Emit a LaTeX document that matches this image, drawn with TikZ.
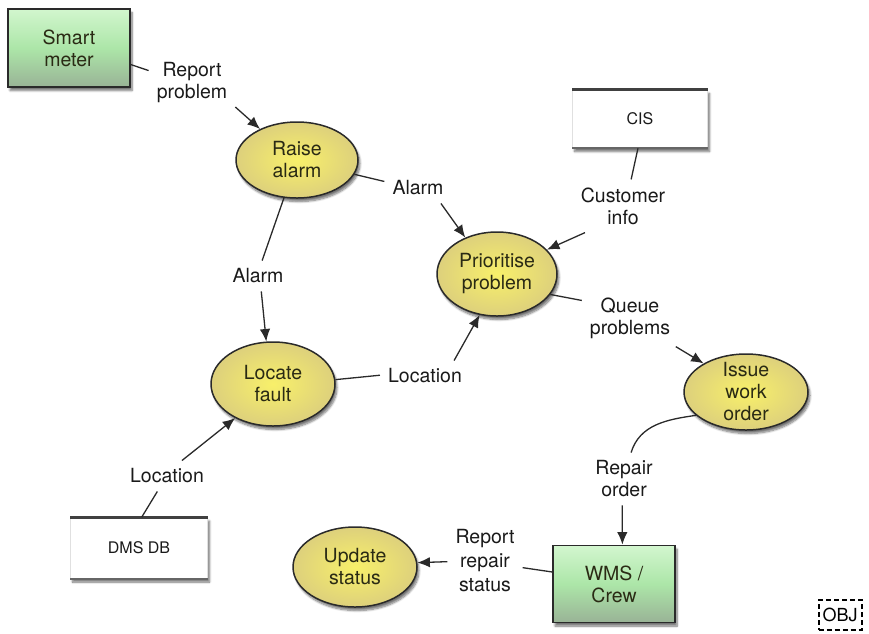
\documentclass[tikz,border=0pt]{standalone}
\usepackage{fontspec}
\setmainfont{TeX Gyre Heros}
\usetikzlibrary{shapes.geometric,arrows.meta,shadows.blur}
\definecolor{procin}{HTML}{F8F06A}
\definecolor{procout}{HTML}{DDD07C}
\definecolor{boxtop}{HTML}{D2F6CE}
\definecolor{boxmid}{HTML}{ACE6A8}
\definecolor{boxbot}{HTML}{99B396}
\definecolor{edge}{HTML}{2A2A2A}
\definecolor{ink}{HTML}{1A1A1A}
\definecolor{proctext}{HTML}{2A2A14}
\begin{document}
\begin{tikzpicture}[x=1pt,y=1pt,
  every node/.style={font=\fontsize{19.5}{22}\selectfont, text=ink, align=center},
  shade/.style={blur shadow={shadow xshift=2pt, shadow yshift=-3.5pt, shadow blur steps=7, shadow opacity=55}},
  proc/.style={ellipse, draw=edge, line width=1.5pt, inner sep=0pt, shade,
    shading=radial, inner color=procin, outer color=procout, text=proctext},
  agent/.style={rectangle, draw=edge, line width=1.9pt, shade, inner sep=0pt,
    top color=boxtop, bottom color=boxbot, middle color=boxmid, text=proctext,
    minimum width=122pt, minimum height=78pt},
  store/.style={rectangle, fill=white, draw=black!12, line width=0.6pt, shade,
    font=\fontsize{16}{19}\selectfont, inner sep=0pt},
  storetop/.style={draw=black!75, line width=3pt},
  storebot/.style={draw=black!60, line width=1.8pt},
  lbl/.style={inner sep=8pt},
  ln/.style={draw=edge, line width=1.3pt},
  arr/.style={ln, -{Latex[length=12.5pt,width=10.5pt]}},
]
\useasboundingbox (0,0) rectangle (869,-633);

% processes
\node[proc, minimum width=122pt, minimum height=76pt] (ra) at (297,-160) {Raise\\alarm};
\node[proc, minimum width=120pt, minimum height=84pt] (pp) at (497,-274) {Prioritise\\problem};
\node[proc, minimum width=124pt, minimum height=84pt] (loc) at (273,-384) {Locate\\fault};
\node[proc, minimum width=124pt, minimum height=76pt, inner ysep=-8pt] (iwo) at (746,-392) {Issue\\work\\order};
\node[proc, minimum width=124pt, minimum height=80pt] (us) at (355,-567) {Update\\status};

% agents
\node[agent] (sm) at (69,-48) {Smart\\meter};
\node[agent, minimum height=77pt] (wms) at (614,-584) {WMS /\\Crew};

% stores
\node[store, minimum width=135pt, minimum height=58pt] (cis) at (640,-119) {CIS};
\draw[storetop] (cis.north west) -- (cis.north east);
\draw[storebot] (cis.south west) -- (cis.south east);
\node[store, minimum width=137pt, minimum height=61pt] (dms) at (139,-548) {DMS DB};
\draw[storetop] (dms.north west) -- (dms.north east);
\draw[storebot] (dms.south west) -- (dms.south east);

% labels
\node[lbl] (l1) at (192,-83) {Report\\problem};
\node[lbl] (l2) at (418,-188) {Alarm};
\node[lbl] (l3) at (623,-206) {Customer\\info};
\node[lbl] (l4) at (258,-276) {Alarm};
\node[lbl] (l5) at (630,-318) {Queue\\problems};
\node[lbl] (l6) at (425,-376) {Location};
\node[lbl] (l7) at (624,-479) {Repair\\order};
\node[lbl] (l8) at (167,-476) {Location};
\node[lbl, font=\fontsize{19.5}{24}\selectfont] (l9) at (485,-561) {Report\\repair\\status};

% OBJ marker
\node[draw=black, line width=2pt, dash pattern=on 5pt off 3pt,
  font=\fontsize{18}{20}\selectfont, text=black, minimum width=43pt, minimum height=30pt, inner sep=1pt]
  (obj) at (840,-615) {OBJ};

% connectors
\draw[ln] (sm.-15.6) -- (l1.164.5);
\draw[arr] (l1.-29) -- (ra.140);
\draw[ln] (ra.-14) -- (l2.169);
\draw[arr] (l2.-34) -- (pp.131);
\draw[ln] (cis.-94) -- (l3.73);
\draw[arr] (l3.-145) -- (pp.26);
\draw[ln] (ra.-109) -- (l4.75);
\draw[arr] (l4.-78) -- (loc.99);
\draw[ln] (loc.4) -- (l6.179);
\draw[arr] (l6.28) -- (pp.-113);
\draw[ln] (pp.-21) -- (l5.160);
\draw[arr] (l5.-32) -- (iwo.146);
\draw[ln] (iwo.205) to[out=188,in=73] (l7.75);
\draw[arr] (l7.-94) -- (wms.78);
\draw[ln] (wms.169) -- (l9.-10);
\draw[arr] (l9.181) -- (us.4);
\draw[ln] (dms.85) -- (l8.-122);
\draw[arr] (l8.46) -- (loc.-138);
\end{tikzpicture}
\end{document}
